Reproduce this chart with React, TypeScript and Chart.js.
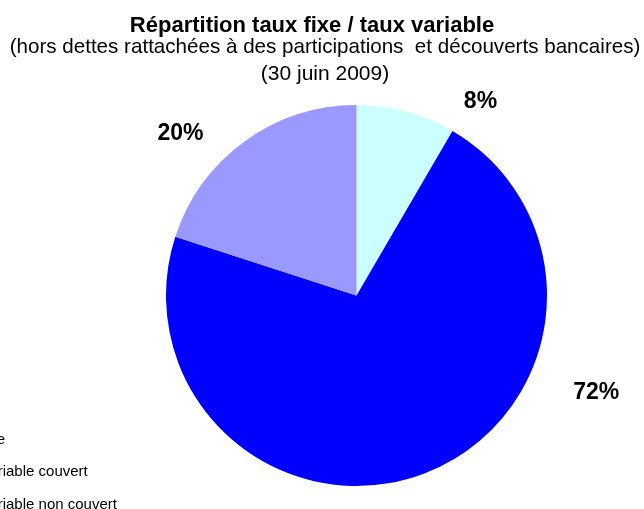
import React, { useEffect, useRef } from "react";
import { Chart, registerables } from "chart.js";

Chart.register(...registerables);

const categories = ["Taux fixe", "Taux variable couvert", "Taux variable non couvert"];
const shares = [8.4, 71.6, 20];
const sliceColors = ["#CCFFFF", "#0000FF", "#9999FF"];
const titleText = "Répartition taux fixe / taux variable";
const subtitleText = "(hors dettes rattachées à des participations  et découverts bancaires)";
const dateText = "(30 juin 2009)";

const FONT = "Arial, 'Liberation Sans', sans-serif";

// label placement around the pie: angle (deg, clockwise from top) and radius factor
const labelPlacement = [
  { angle: 32.3, r: 1.218 },
  { angle: 111.7, r: 1.354 },
  { angle: 313, r: 1.263 },
];

const decorPlugin = {
  id: "decor",
  afterDraw(chart: any) {
    const ctx = chart.ctx;
    ctx.save();
    ctx.fillStyle = "#000000";
    ctx.textAlign = "center";
    ctx.textBaseline = "alphabetic";
    ctx.font = `bold 22px ${FONT}`;
    ctx.fillText(titleText, 312, 32);
    ctx.font = `20.6px ${FONT}`;
    ctx.fillText(subtitleText, 325, 53);
    ctx.font = `21px ${FONT}`;
    ctx.fillText(dateText, 325, 80);

    // percentage labels
    const meta = chart.getDatasetMeta(0);
    const arc0 = meta.data[0];
    const cx = arc0.x;
    const cy = arc0.y;
    const R = arc0.outerRadius;
    const vals = chart.data.datasets[0].data as number[];
    const total = vals.reduce((a: number, b: number) => a + b, 0);
    ctx.font = `bold 23px ${FONT}`;
    vals.forEach((v: number, i: number) => {
      const p = labelPlacement[i];
      const a = (p.angle * Math.PI) / 180;
      const x = cx + Math.sin(a) * R * p.r;
      const y = cy - Math.cos(a) * R * p.r;
      ctx.fillText(`${Math.round((v / total) * 100)}%`, x, y + 8.2);
    });

    // legend (partly outside the visible area, as in the reference)
    ctx.textAlign = "left";
    ctx.font = `15px ${FONT}`;
    (chart.data.labels as string[]).forEach((lab: string, i: number) => {
      const by = 443.5 + i * 32.5;
      ctx.fillStyle = sliceColors[i];
      ctx.fillRect(-74, by - 10, 10, 10);
      ctx.fillStyle = "#000000";
      ctx.fillText(lab, -54, by);
    });
    ctx.restore();
  },
};

export default function App() {
  const ref = useRef<HTMLCanvasElement>(null);
  useEffect(() => {
    if (!ref.current) return;
    const chart = new Chart(ref.current, {
      type: "pie",
      data: {
        labels: categories,
        datasets: [
          {
            data: shares,
            backgroundColor: sliceColors,
            borderWidth: 0,
          },
        ],
      },
      options: {
        responsive: false,
        animation: false,
        devicePixelRatio: 1,
        layout: { padding: { left: 166, top: 105, right: 97, bottom: 23 } },
        plugins: {
          legend: { display: false },
          title: { display: false },
          tooltip: { enabled: false },
        },
      },
      plugins: [decorPlugin],
    });
    return () => chart.destroy();
  }, []);
  return (
    <div style={{ position: "absolute", left: 0, top: 0, width: 644, height: 509, background: "#ffffff" }}>
      <canvas ref={ref} width={644} height={509} style={{ display: "block", width: 644, height: 509 }} />
    </div>
  );
}
